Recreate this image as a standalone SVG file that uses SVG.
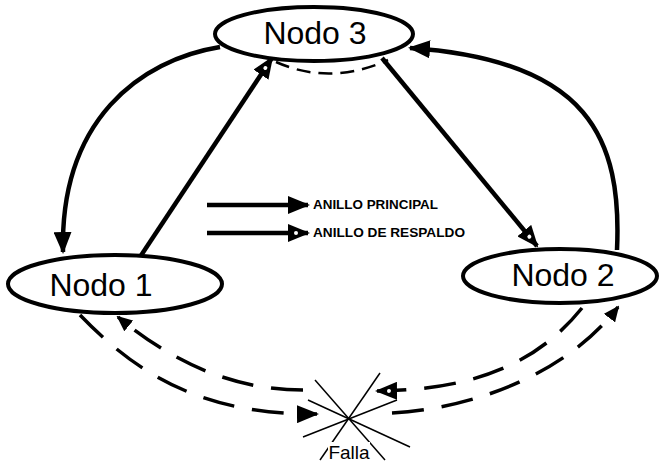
<svg xmlns="http://www.w3.org/2000/svg" width="661" height="462" viewBox="0 0 661 462">
<style>
.node{fill:#fff;stroke:#000;stroke-width:4}
.lbl{font-family:"Liberation Sans",Arial,sans-serif;font-size:32px;fill:#000;text-anchor:middle}
.main{fill:none;stroke:#000;stroke-width:4.5}
.back{fill:none;stroke:#000;stroke-width:3.5;stroke-dasharray:32 18}
.leg{font-family:"Liberation Sans",Arial,sans-serif;font-size:12px;font-weight:bold;fill:#000}
.fault{stroke:#000;stroke-width:1.5}
</style>
<defs>
<marker id="aMain" viewBox="0 0 22 18" refX="20" refY="9" markerWidth="22" markerHeight="18" markerUnits="userSpaceOnUse" orient="auto">
<path d="M0,0 L22,9 L0,18 z" fill="#000"/>
</marker>
<marker id="aBack" viewBox="0 0 22 18" refX="20" refY="9" markerWidth="22" markerHeight="18" markerUnits="userSpaceOnUse" orient="auto">
<path d="M0,0 L22,9 L0,18 z" fill="#000"/>
<circle cx="8" cy="9" r="2" fill="#fff"/>
</marker>
<marker id="aSmall" viewBox="0 0 16 14" refX="14" refY="7" markerWidth="16" markerHeight="14" markerUnits="userSpaceOnUse" orient="auto">
<path d="M0,0 L16,7 L0,14 z" fill="#000"/>
</marker>
</defs>

<g id="connectors">
<path class="main" d="M220,47 C140,60 60,120 63,252" marker-end="url(#aMain)"/>
<path class="main" d="M140,257 L272,58" marker-end="url(#aBack)"/>
<path class="main" d="M382,58 L537,246" marker-end="url(#aBack)"/>
<path class="main" d="M617,250 C622,140 590,60 410,48" marker-end="url(#aMain)"/>
<path fill="none" stroke="#000" stroke-width="2.5" stroke-dasharray="14 8" d="M276,62 Q330,86 388,60"/>
<path class="back" d="M303,390 C230,390 170,360 118,317" marker-end="url(#aSmall)"/>
<path class="back" d="M80,315 C135,372 200,415 317,414" marker-end="url(#aMain)"/>
<path class="back" d="M582,308 C540,360 480,390 377,391" marker-end="url(#aBack)"/>
<path class="back" d="M392,413 C480,408 570,370 618,307" marker-end="url(#aSmall)"/>
</g>

<g id="nodo3">
<ellipse class="node" cx="314" cy="34" rx="99" ry="27"/>
<text class="lbl" x="315" y="44">Nodo 3</text>
</g>
<g id="nodo1">
<ellipse class="node" cx="115" cy="284" rx="107" ry="29"/>
<text class="lbl" x="101" y="296">Nodo 1</text>
</g>
<g id="nodo2">
<ellipse class="node" cx="560" cy="276" rx="97" ry="27"/>
<text class="lbl" x="563" y="286">Nodo 2</text>
</g>

<g id="legend">
<line class="main" x1="207" y1="205" x2="308" y2="205" marker-end="url(#aMain)"/>
<text class="leg" x="313" y="209" textLength="125" lengthAdjust="spacingAndGlyphs">ANILLO PRINCIPAL</text>
<line class="main" x1="207" y1="233" x2="308" y2="233" marker-end="url(#aBack)"/>
<text class="leg" x="313" y="237" textLength="152" lengthAdjust="spacingAndGlyphs">ANILLO DE RESPALDO</text>
</g>

<g id="falla">
<line class="fault" x1="315" y1="380" x2="385" y2="460"/>
<line class="fault" x1="380" y1="373" x2="320" y2="460"/>
<line class="fault" x1="308" y1="400" x2="410" y2="447"/>
<line class="fault" x1="397" y1="400" x2="303" y2="437"/>
<rect x="328" y="442" width="42" height="20" fill="#fff"/>
<text x="349" y="459" font-family="'Liberation Sans',Arial,sans-serif" font-size="19" text-anchor="middle">Falla</text>
</g>
</svg>
